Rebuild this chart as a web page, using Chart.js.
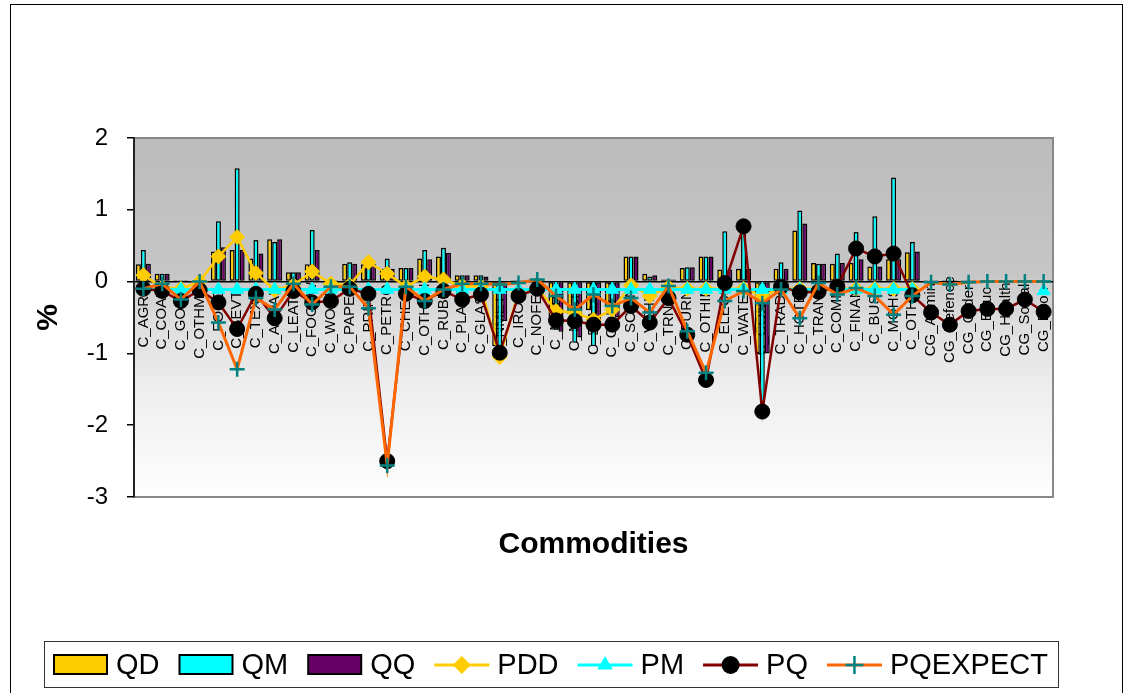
<!DOCTYPE html>
<html>
<head>
<meta charset="utf-8">
<script src="https://cdn.jsdelivr.net/npm/chart.js@4.4.0/dist/chart.umd.min.js"></script>
<style>
  html, body { margin: 0; padding: 0; background: #fff; }
  #wrap { width: 1132px; height: 693px; }
</style>
</head>
<body>
<div id="wrap"><canvas id="chart" width="1132" height="693"></canvas></div>
<script>
// commodities on the category axis
var categories = ["C_AGRI", "C_COAL", "C_GOLD", "C_OTHMIN", "C_FOOD", "C_BEVT", "C_TEXT", "C_APPAR",
  "C_LEATH", "C_FOOTW", "C_WOOD", "C_PAPER", "C_PRINT", "C_PETRO", "C_CHEM", "C_OTHCH", "C_RUBB",
  "C_PLAST", "C_GLASS", "C_NMETM", "C_IRON", "C_NOFER", "C_METP", "C_MACH", "C_ELMAC", "C_COMEQ",
  "C_SCIEN", "C_VEHIC", "C_TRNEQ", "C_FURN", "C_OTHIN", "C_ELECS", "C_WATER", "C_CONST", "C_TRADE",
  "C_HOTEL", "C_TRANS", "C_COMM", "C_FINAN", "C_BUS", "C_MOHS", "C_OTHS", "CG_Admin", "CG_Defence",
  "CG_Order", "CG_Educ", "CG_Health", "CG_Social", "CG_Econ"];

// quantities (bars), % change
var qd = [0.24, 0.11, 0.02, 0.02, 0.42, 0.44, 0.32, 0.59, 0.13, 0.24, 0.02, 0.25, 0.24, 0.18, 0.19, 0.32,
  0.35, 0.09, 0.09, -0.9, 0.02, 0.02, -0.5, -0.45, -0.4, -0.35, 0.35, 0.11, 0.03, 0.19, 0.35, 0.17, 0.18,
  -1.0, 0.18, 0.71, 0.26, 0.25, 0.26, 0.21, 0.31, 0.41, 0.02, 0.02, 0.02, 0.02, 0.02, 0.02, 0.02];
var qm = [0.44, 0.11, 0.02, 0.02, 0.84, 1.58, 0.58, 0.55, 0.13, 0.72, 0.02, 0.27, 0.33, 0.32, 0.19, 0.44,
  0.47, 0.09, 0.09, -1.0, 0.02, 0.02, -0.67, -0.85, -0.9, -0.45, 0.35, 0.07, 0.03, 0.2, 0.35, 0.7, 0.72,
  -1.7, 0.27, 0.99, 0.25, 0.39, 0.69, 0.91, 1.45, 0.55, 0.02, 0.02, 0.02, 0.02, 0.02, 0.02, 0.02];
var qq = [0.25, 0.11, 0.02, 0.02, 0.48, 0.44, 0.39, 0.59, 0.13, 0.44, 0.02, 0.25, 0.24, 0.18, 0.19, 0.31,
  0.40, 0.09, 0.07, -0.55, 0.02, 0.02, -0.7, -0.78, -0.6, -0.5, 0.35, 0.09, 0.03, 0.2, 0.35, 0.17, 0.18,
  -1.0, 0.18, 0.81, 0.25, 0.26, 0.31, 0.21, 0.31, 0.42, 0.02, 0.02, 0.02, 0.02, 0.02, 0.02, 0.02];

// prices (lines), % change
var pdd = [0.09, -0.08, -0.1, 0.0, 0.35, 0.62, 0.12, -0.12, -0.05, 0.14, -0.03, -0.05, 0.27, 0.11, -0.07,
  0.07, 0.03, -0.06, -0.07, -1.05, -0.15, -0.08, -0.41, -0.43, -0.53, -0.39, -0.05, -0.2, -0.08, -0.1,
  -0.1, -0.1, -0.1, -0.2, -0.1, -0.1, -0.1, -0.1, -0.1, -0.1, -0.1, -0.1,
  null, null, null, null, null, null, null];
var pm = [-0.11, -0.11, -0.11, -0.11, -0.11, -0.11, -0.11, -0.11, -0.11, -0.11, -0.11, -0.11, -0.11,
  -0.11, -0.11, -0.11, -0.11, -0.11, -0.11, -0.11, -0.11, -0.11, -0.11, -0.11, -0.11, -0.11, -0.11,
  -0.11, -0.11, -0.11, -0.11, -0.11, -0.11, -0.11, -0.11, -0.11, -0.11, -0.11, -0.11, -0.11, -0.11,
  -0.11, null, null, null, null, null, null, -0.13];
var pq = [-0.1, -0.13, -0.27, -0.12, -0.29, -0.66, -0.17, -0.51, -0.13, -0.29, -0.27, -0.1, -0.17, -2.5,
  -0.17, -0.27, -0.13, -0.25, -0.18, -0.99, -0.2, -0.1, -0.54, -0.55, -0.6, -0.6, -0.34, -0.57, -0.23,
  -0.74, -1.37, -0.02, 0.77, -1.81, -0.07, -0.15, -0.14, -0.07, 0.46, 0.35, 0.39, -0.19, -0.43, -0.6,
  -0.41, -0.38, -0.38, -0.25, -0.42];
var pqexpect = [-0.1, -0.03, -0.25, 0.0, -0.57, -1.22, -0.23, -0.39, -0.03, -0.32, -0.07, -0.07, -0.37,
  -2.56, -0.07, -0.27, -0.11, -0.03, -0.03, -0.04, -0.02, 0.03, -0.2, -0.39, -0.18, -0.34, -0.23, -0.43,
  -0.06, -0.69, -1.27, -0.27, -0.13, -0.3, -0.11, -0.51, -0.02, -0.18, -0.09, -0.2, -0.46, -0.2, -0.01,
  -0.04, -0.01, 0, 0, 0, 0];

var yTicks = [2, 1, 0, -1, -2, -3];

var FONT = '"Liberation Sans", Arial, sans-serif';

function drawMarker(ctx, style, x, y, r, fill, stroke, lw) {
  ctx.save();
  ctx.fillStyle = fill;
  ctx.strokeStyle = stroke;
  ctx.lineWidth = lw;
  ctx.beginPath();
  if (style === 'rectRot') {
    ctx.moveTo(x, y - r); ctx.lineTo(x + r, y); ctx.lineTo(x, y + r); ctx.lineTo(x - r, y);
    ctx.closePath(); ctx.fill();
  } else if (style === 'triangle') {
    ctx.moveTo(x, y - r); ctx.lineTo(x + r * 0.866, y + r / 2); ctx.lineTo(x - r * 0.866, y + r / 2);
    ctx.closePath(); ctx.fill();
  } else if (style === 'circle') {
    ctx.arc(x, y, r, 0, Math.PI * 2); ctx.fill();
  } else if (style === 'cross') {
    ctx.moveTo(x - r, y); ctx.lineTo(x + r, y); ctx.moveTo(x, y - r); ctx.lineTo(x, y + r);
    ctx.stroke();
  }
  ctx.restore();
}

var framePlugin = {
  id: 'frame',
  beforeDraw: function(chart) {
    var ctx = chart.ctx, a = chart.chartArea;
    ctx.save();
    ctx.fillStyle = '#fff';
    ctx.fillRect(0, 0, chart.width, chart.height);
    ctx.strokeStyle = '#000';
    ctx.lineWidth = 1;
    ctx.strokeRect(10.5, 4.5, 1112, 720);
    var g = ctx.createLinearGradient(0, a.top, 0, a.bottom);
    g.addColorStop(0, '#bcbcbc');
    g.addColorStop(0.38, '#c6c6c6');
    g.addColorStop(0.5, '#dcdcdc');
    g.addColorStop(0.7, '#eeeeee');
    g.addColorStop(1, '#fefefe');
    ctx.fillStyle = g;
    ctx.fillRect(a.left, a.top, a.right - a.left, a.bottom - a.top);
    ctx.strokeStyle = '#888';
    ctx.lineWidth = 2;
    ctx.strokeRect(a.left, a.top, a.right - a.left, a.bottom - a.top);
    ctx.restore();
  }
};

// category names sit inside the plot, just under the zero line
var catLabelPlugin = {
  id: 'catLabels',
  beforeDatasetsDraw: function(chart) {
    var ctx = chart.ctx, xs = chart.scales.x, ys = chart.scales.y;
    var yc = ys.getPixelForValue(0) + 38;
    ctx.save();
    ctx.font = '15px ' + FONT;
    ctx.fillStyle = '#000';
    ctx.textAlign = 'center';
    ctx.textBaseline = 'middle';
    for (var i = 0; i < categories.length; i++) {
      ctx.save();
      ctx.translate(xs.getPixelForValue(i), yc);
      ctx.rotate(-Math.PI / 2);
      ctx.fillText(categories[i], 0, 0);
      ctx.restore();
    }
    ctx.restore();
  }
};

var legendPlugin = {
  id: 'boxLegend',
  afterDraw: function(chart) {
    var ctx = chart.ctx;
    ctx.save();
    ctx.strokeStyle = '#333';
    ctx.lineWidth = 1;
    ctx.strokeRect(44.5, 641.5, 1014, 46);
    ctx.font = '29px ' + FONT;
    ctx.textBaseline = 'middle';
    var x = 53, cy = 665;
    chart.data.datasets.forEach(function(ds) {
      if (ds.type === 'bar') {
        ctx.fillStyle = '#000';
        ctx.fillRect(x, cy - 11, 55, 21);
        ctx.fillStyle = ds.backgroundColor;
        ctx.fillRect(x + 2, cy - 9, 51, 17);
      } else {
        ctx.strokeStyle = ds.borderColor;
        ctx.lineWidth = 3;
        ctx.beginPath();
        ctx.moveTo(x, cy);
        ctx.lineTo(x + 55, cy);
        ctx.stroke();
        drawMarker(ctx, ds.pointStyle, x + 27.5, cy, 9, ds.pointBackgroundColor, ds.pointBorderColor, 2.5);
      }
      x += 55 + 8;
      ctx.fillStyle = '#000';
      ctx.fillText(ds.label, x, cy + 1);
      x += ctx.measureText(ds.label).width + 19;
    });
    ctx.restore();
  }
};

var barStyle = { borderColor: '#000', borderWidth: 1.5, borderSkipped: false,
  categoryPercentage: 0.8, barPercentage: 1 };

var ctx = document.getElementById('chart').getContext('2d');
var chart = new Chart(ctx, {
  data: {
    labels: categories,
    datasets: [
      Object.assign({ type: 'bar', label: 'QD', data: qd, backgroundColor: '#FFCC00', order: 4 }, barStyle),
      Object.assign({ type: 'bar', label: 'QM', data: qm, backgroundColor: '#00FFFF', order: 5 }, barStyle),
      Object.assign({ type: 'bar', label: 'QQ', data: qq, backgroundColor: '#660066', order: 6 }, barStyle),
      {
        type: 'line', label: 'PDD', data: pdd, order: 3,
        borderColor: '#FFCC00', borderWidth: 2.5, tension: 0, fill: false,
        pointStyle: 'rectRot', pointRadius: 7.5, pointBackgroundColor: '#FFCC00',
        pointBorderColor: '#FFCC00', pointBorderWidth: 1
      },
      {
        type: 'line', label: 'PM', data: pm, order: 2,
        borderColor: '#00FFFF', borderWidth: 3, tension: 0, fill: false,
        pointStyle: 'triangle', pointRadius: 7.5, pointBackgroundColor: '#00FFFF',
        pointBorderColor: '#00FFFF', pointBorderWidth: 1
      },
      {
        type: 'line', label: 'PQ', data: pq, order: 1,
        borderColor: '#800000', borderWidth: 2.5, tension: 0, fill: false,
        pointStyle: 'circle', pointRadius: 7.5, pointBackgroundColor: '#000',
        pointBorderColor: '#000', pointBorderWidth: 1
      },
      {
        type: 'line', label: 'PQEXPECT', data: pqexpect, order: 0,
        borderColor: '#FF6600', borderWidth: 3, tension: 0, fill: false,
        pointStyle: 'cross', pointRadius: 7.5, pointBackgroundColor: '#008080',
        pointBorderColor: '#008080', pointBorderWidth: 2.5
      }
    ]
  },
  options: {
    responsive: false,
    animation: false,
    devicePixelRatio: 1,
    layout: { padding: { top: 138, left: 0, right: 79, bottom: 130 } },
    plugins: {
      legend: { display: false },
      tooltip: { enabled: false }
    },
    scales: {
      x: {
        type: 'category',
        grid: { display: false },
        border: { display: false },
        ticks: { display: false },
        title: {
          display: true, text: 'Commodities', color: '#000',
          font: { family: FONT, size: 30, weight: 'bold' },
          padding: { top: 0, bottom: 0 }
        },
        afterFit: function(scale) { scale.height = 66; }
      },
      y: {
        min: -3, max: 2,
        afterBuildTicks: function(scale) {
          scale.ticks = yTicks.map(function(v) { return { value: v }; });
        },
        ticks: { color: '#000', padding: 19, font: { family: FONT, size: 24 } },
        grid: {
          drawOnChartArea: true,
          color: function(c) { return c.tick && c.tick.value === 0 ? '#000' : 'rgba(0,0,0,0)'; },
          lineWidth: 1.5,
          tickColor: '#000',
          tickLength: 7,
          tickWidth: 1.5
        },
        border: { display: true, color: '#222', width: 2 },
        title: {
          display: true, text: '%', color: '#000',
          font: { family: FONT, size: 30, weight: 'bold' },
          padding: { top: 31, bottom: 0 }
        },
        afterFit: function(scale) { scale.width = 134; }
      }
    }
  },
  plugins: [framePlugin, catLabelPlugin, legendPlugin]
});
</script>
</body>
</html>
